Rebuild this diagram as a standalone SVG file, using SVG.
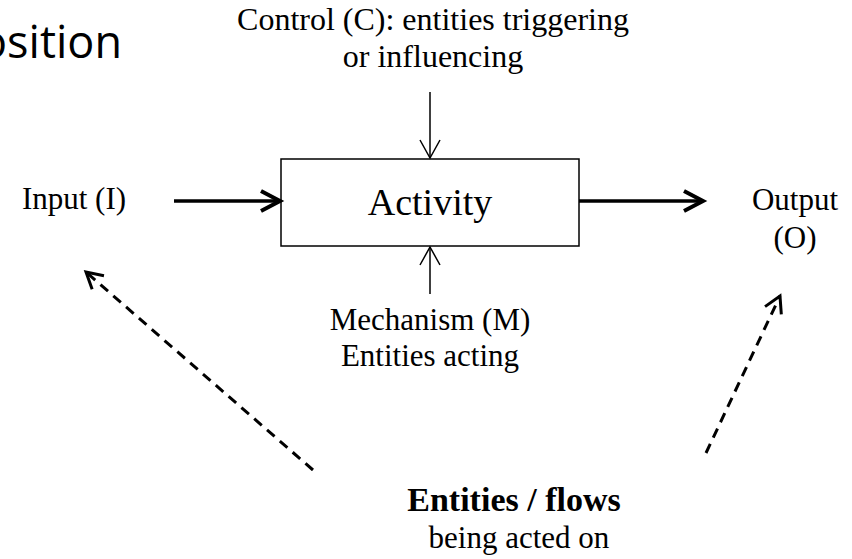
<svg xmlns="http://www.w3.org/2000/svg" width="852" height="559" viewBox="0 0 852 559">
  <style>
    .lbl { font-family: "Liberation Serif", "Times New Roman", serif; font-size: 31px; fill: #000; }
    .ctl { font-size: 32px; }
    .big { font-size: 38px; }
    .bold { font-weight: bold; font-size: 34px; }
    .title { font-family: "Open Sans", "Liberation Sans", sans-serif; font-size: 45px; fill: #000; }
    .thick { stroke: #000; stroke-width: 3.5; fill: none; }
    .thin { stroke: #000; stroke-width: 1.5; fill: none; }
    .dash { stroke: #000; stroke-width: 3; fill: none; stroke-dasharray: 10 7; }
  </style>
  <defs>
    <marker id="headThick" markerUnits="userSpaceOnUse" markerWidth="40" markerHeight="40" refX="0" refY="0" orient="auto" overflow="visible">
      <path d="M-19,-10 L0,0 L-19,10" fill="none" stroke="#000" stroke-width="4" stroke-dasharray="none"/>
    </marker>
    <marker id="headThin" markerUnits="userSpaceOnUse" markerWidth="40" markerHeight="40" refX="0" refY="0" orient="auto" overflow="visible">
      <path d="M-18,-10 L0,0 L-18,10" fill="none" stroke="#000" stroke-width="1.5" stroke-dasharray="none"/>
    </marker>
    <marker id="headDash" markerUnits="userSpaceOnUse" markerWidth="40" markerHeight="40" refX="0" refY="0" orient="auto" overflow="visible">
      <path d="M-16,-9 L0,0 L-16,9" fill="none" stroke="#000" stroke-width="3" stroke-dasharray="none"/>
    </marker>
  </defs>
  <rect width="852" height="559" fill="#fff"/>

  <!-- slide title, running off the left edge -->
  <text class="title" x="122" y="58" text-anchor="end">osition</text>

  <g id="activity">
    <rect x="281" y="159" width="298" height="87" fill="#fff" stroke="#000" stroke-width="1.5"/>
    <text class="lbl big" x="430" y="215" text-anchor="middle">Activity</text>
  </g>

  <g id="control">
    <text class="lbl ctl" x="433" y="30" text-anchor="middle">Control (C): entities triggering</text>
    <text class="lbl ctl" x="433" y="67" text-anchor="middle">or influencing</text>
  </g>

  <g id="input">
    <text class="lbl" x="74" y="209" text-anchor="middle">Input (I)</text>
  </g>

  <g id="output">
    <text class="lbl" x="795" y="210" text-anchor="middle">Output</text>
    <text class="lbl" x="795" y="248" text-anchor="middle">(O)</text>
  </g>

  <g id="mechanism">
    <text class="lbl" x="430" y="330" text-anchor="middle">Mechanism (M)</text>
    <text class="lbl" x="430" y="366" text-anchor="middle">Entities acting</text>
  </g>

  <g id="entities">
    <text class="lbl bold" x="514" y="511" text-anchor="middle">Entities / flows</text>
    <text class="lbl" x="519" y="548" text-anchor="middle">being acted on</text>
  </g>

  <g id="connectors">
    <line class="thick" x1="174" y1="201" x2="280" y2="201" marker-end="url(#headThick)"/>
    <line class="thick" x1="579" y1="201" x2="703" y2="201" marker-end="url(#headThick)"/>
    <line class="thin" x1="430" y1="92" x2="430" y2="158" marker-end="url(#headThin)"/>
    <line class="thin" x1="430" y1="294" x2="430" y2="247" marker-end="url(#headThin)"/>
    <line class="dash" x1="313" y1="470" x2="86" y2="272" marker-end="url(#headDash)"/>
    <line class="dash" x1="706" y1="453" x2="780" y2="296" marker-end="url(#headDash)"/>
  </g>
</svg>
